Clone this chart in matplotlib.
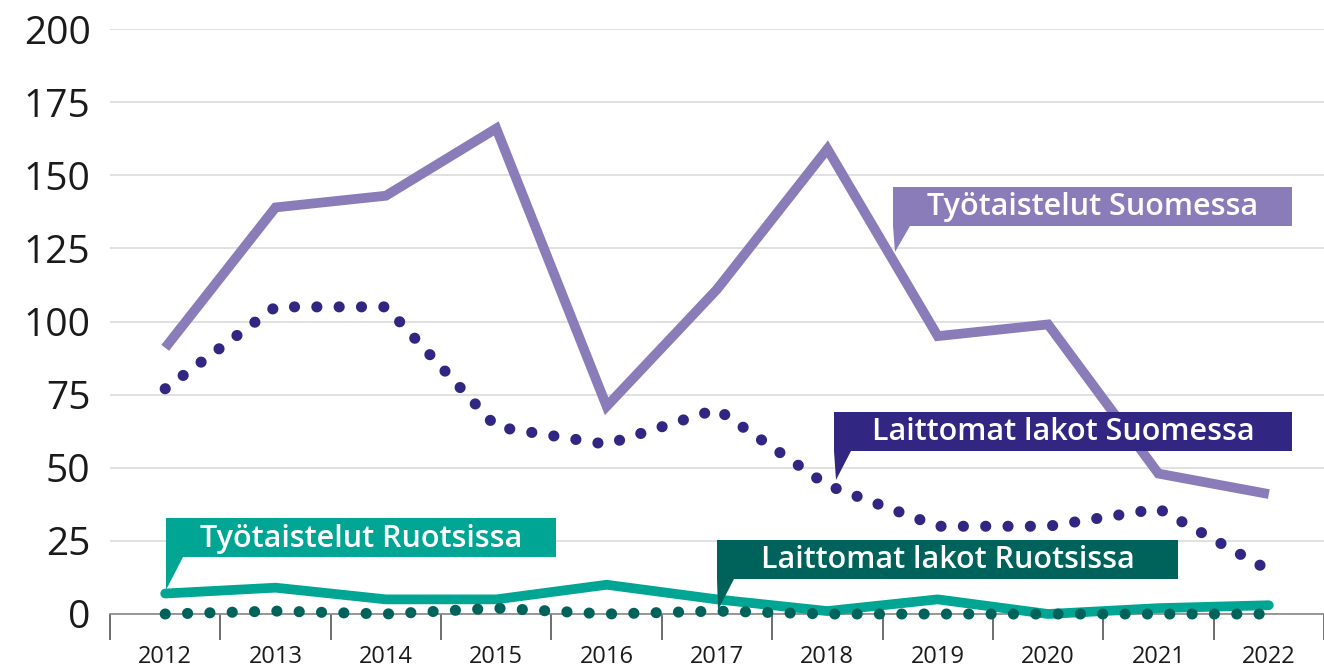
import matplotlib.pyplot as plt
from matplotlib.patches import Polygon

years = [2012, 2013, 2014, 2015, 2016, 2017, 2018, 2019, 2020, 2021, 2022]
tyotaistelut_suomi = [91, 139, 143, 166, 71, 111, 159, 95, 99, 48, 41]
laittomat_suomi = [77, 105, 105, 64, 58, 70, 44, 30, 30, 36, 15]
tyotaistelut_ruotsi = [7, 9, 5, 5, 10, 5, 1, 5, 0, 2, 3]
laittomat_ruotsi = [0, 1, 0, 2, 0, 1, 0, 0, 0, 0, 0]

c_light_purple = '#8a7bb9'
c_dark_purple = '#312783'
c_teal = '#00a693'
c_dark_teal = '#00635b'

plt.rcParams['font.family'] = ['Open Sans', 'DejaVu Sans']

W, H = 1324, 668
fig = plt.figure(figsize=(W / 100, H / 100), dpi=100)

# plot area in pixels: left edge 110, 0 at y=614, 200 at y=29, category width ~111.2
left_px, bottom_px, top_px = 110, 614, 29
step = 111.2
ax = fig.add_axes([left_px / W, (H - bottom_px) / H, (W - left_px) / W, (bottom_px - top_px) / H])

x = list(range(len(years)))
ax.set_xlim(-0.5, (W - left_px) / step - 0.5)
ax.set_ylim(0, 200)

ax.plot(x, tyotaistelut_suomi, color=c_light_purple, lw=7, solid_capstyle='butt',
        solid_joinstyle='miter', zorder=3)
ax.plot(x, laittomat_suomi, color=c_dark_purple, lw=8, linestyle=(0, (0.01, 2.0)),
        dash_capstyle='round', zorder=4, clip_on=False)
ax.plot(x, tyotaistelut_ruotsi, color=c_teal, lw=7, solid_capstyle='round',
        solid_joinstyle='miter', zorder=3, clip_on=False)
ax.plot(x, laittomat_ruotsi, color=c_dark_teal, lw=8, linestyle=(0, (0.01, 2.0)),
        dash_capstyle='round', zorder=5, clip_on=False)

ax.set_yticks(range(0, 201, 25))
ax.tick_params(axis='y', length=0, pad=14, labelsize=28, labelcolor='#1a1a1a')
ax.grid(axis='y', color='#dcdcdc', lw=1.2)
ax.set_axisbelow(True)

ax.set_xticks(x)
ax.set_xticklabels([str(y) for y in years])
ax.set_xticks([i - 0.5 for i in range(len(years) + 1)], minor=True)
ax.tick_params(axis='x', which='major', length=0, pad=22, labelsize=17, labelcolor='#1a1a1a')
ax.tick_params(axis='x', which='minor', length=19, width=1.2, color='#555555')

for s in ['top', 'right', 'left']:
    ax.spines[s].set_visible(False)
ax.spines['bottom'].set_color('#888888')
ax.spines['bottom'].set_linewidth(1.2)

# label boxes with pointer, in pixel coordinates
ov = fig.add_axes([0, 0, 1, 1], zorder=10)
ov.set_xlim(0, W)
ov.set_ylim(H, 0)
ov.axis('off')
ov.patch.set_alpha(0)

labels = ['Työtaistelut Suomessa', 'Laittomat lakot Suomessa',
          'Työtaistelut Ruotsissa', 'Laittomat lakot Ruotsissa']
label_colors = [c_light_purple, c_dark_purple, c_teal, c_dark_teal]
# (left, top, right, bottom, tip_x, tip_y)
label_boxes = [(893, 187, 1292, 226, 895, 252),
               (834, 412, 1292, 451, 836, 480),
               (166, 518, 556, 557, 166, 590),
               (717, 540, 1178, 579, 718, 610)]

for text, col, (l, t, r, b, tx, ty) in zip(labels, label_colors, label_boxes):
    poly = Polygon([(l, t), (r, t), (r, b), (l + 17, b), (tx, ty), (l, b)],
                   closed=True, facecolor=col, edgecolor='none')
    ov.add_patch(poly)
    ov.text((l + r) / 2, (t + b) / 2 + 1, text, color='white', fontsize=22,
            fontweight='semibold', ha='center', va='center')

fig.savefig('out.png', dpi=100)
